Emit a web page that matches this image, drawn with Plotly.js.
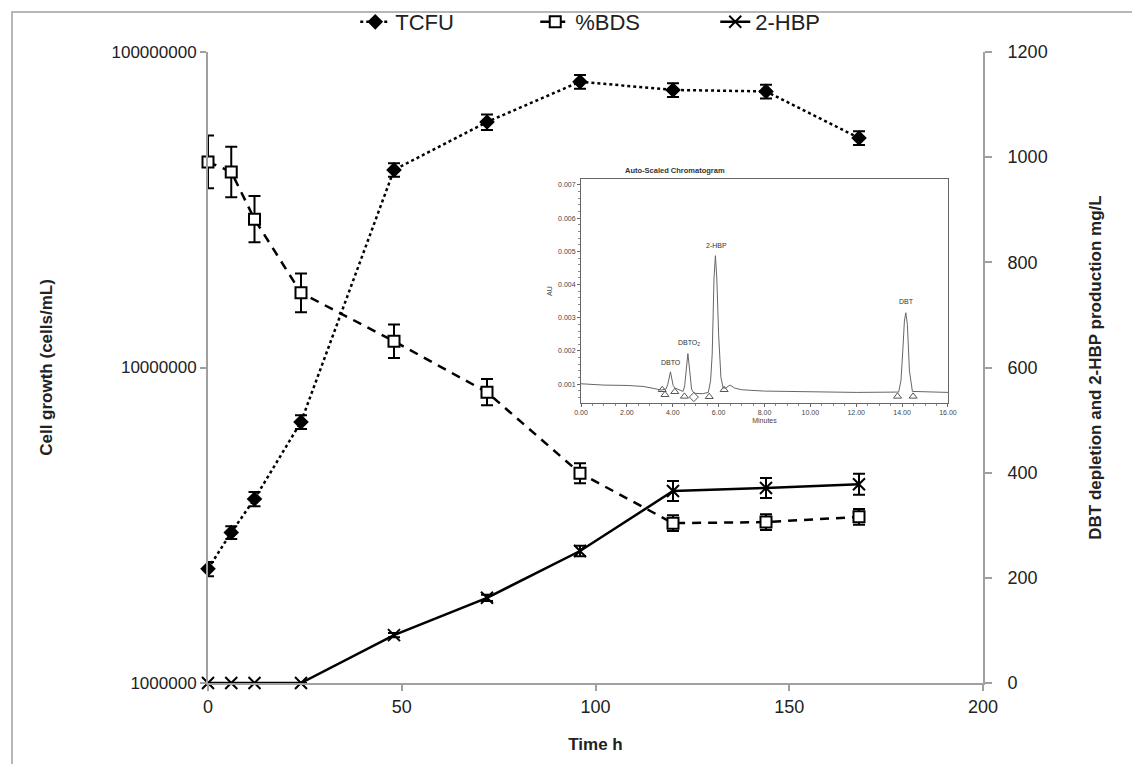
<!DOCTYPE html>
<html>
<head>
<meta charset="utf-8">
<script src="https://cdn.plot.ly/plotly-3.0.1.min.js"></script>
<style>
  html, body { margin: 0; padding: 0; background: #fff; }
  #chart { width: 1132px; height: 764px; }
</style>
</head>
<body>
<div id="chart"></div>
<script>
// ---- Main data ----
const timeH = [0, 6, 12, 24, 48, 72, 96, 120, 144, 168];
const tcfu = [2.30e6, 3.0e6, 3.83e6, 6.72e6, 4.23e7, 6.0e7, 8.05e7, 7.58e7, 7.5e7, 5.34e7];
const tcfuErr = [1.2e5, 1.4e5, 2.0e5, 3.4e5, 2.1e6, 3.4e6, 4.0e6, 3.8e6, 3.8e6, 2.7e6];
const bds = [991, 972, 882, 742, 650, 553, 399, 304, 306, 316];
const bdsErr = [50, 48, 44, 37, 32, 25, 19, 15, 15, 15];
const hbp = [0, 0, 0, 0, 91, 162, 251, 365, 371, 378];
const hbpErr = [0, 0, 0, 0, 4, 6, 10, 19, 19, 20];

const leftTickVals = [1e6, 1e7, 1e8];
const leftTickText = ['1000000', '10000000', '100000000'];

// ---- Inset chromatogram ----
const chromMin = [0, 1.0, 2.0, 2.7, 3.1, 3.5, 3.7, 3.78, 3.9, 4.02, 4.1, 4.2, 4.45, 4.52, 4.58, 4.66, 4.74, 4.82, 4.9, 5.0, 5.3, 5.55, 5.65, 5.72, 5.8, 5.86, 5.92, 6.0, 6.1, 6.2, 6.3, 6.5, 6.7, 7.0, 8.0, 9.0, 10.0, 12.0, 13.85, 13.95, 14.03, 14.1, 14.16, 14.23, 14.32, 14.45, 16.0];
const chromAU = [0.00101, 0.00097, 0.00096, 0.00093, 0.00088, 0.00082, 0.00085, 0.00098, 0.00137, 0.00095, 0.00088, 0.00085, 0.00078, 0.00095, 0.0014, 0.00192, 0.0014, 0.00085, 0.00075, 0.00072, 0.00071, 0.00075, 0.0011, 0.0019, 0.0042, 0.00487, 0.0042, 0.0025, 0.0012, 0.00088, 0.00088, 0.00097, 0.00088, 0.00083, 0.00079, 0.00078, 0.00076, 0.00075, 0.00076, 0.0011, 0.0020, 0.0029, 0.00315, 0.0028, 0.0014, 0.00078, 0.00075];
const triMin = [3.54, 3.66, 4.09, 4.51, 5.59, 6.24, 13.8, 14.48];
const triAU = [0.00083, 0.00068, 0.00077, 0.00063, 0.00062, 0.00083, 0.00063, 0.00063];
const diaMin = [4.92];
const diaAU = [0.00061];
const peakNames = ['DBTO', 'DBTO<sub>2</sub>', '2-HBP', 'DBT'];
const peakMin = [3.92, 4.72, 5.91, 14.18];
const peakAU = [0.00150, 0.00205, 0.00502, 0.00332];

const F = 'Liberation Sans, Arial, sans-serif';

const traces = [
  {
    x: timeH, y: tcfu, name: 'TCFU', type: 'scatter', mode: 'lines+markers',
    xaxis: 'x', yaxis: 'y', cliponaxis: false,
    line: {color: '#000', width: 2.5, dash: 'dot'},
    marker: {symbol: 'diamond', size: 12, color: '#000'},
    error_y: {type: 'data', array: tcfuErr, visible: true, color: '#000', thickness: 2, width: 6}
  },
  {
    x: timeH, y: bds, name: '%BDS', type: 'scatter', mode: 'lines+markers',
    xaxis: 'x', yaxis: 'y2', cliponaxis: false,
    line: {color: '#000', width: 2.5, dash: '9px,7px'},
    marker: {symbol: 'square', size: 11, color: '#fff', line: {color: '#000', width: 2}},
    error_y: {type: 'data', array: bdsErr, visible: true, color: '#000', thickness: 2, width: 6}
  },
  {
    x: timeH, y: hbp, name: '2-HBP', type: 'scatter', mode: 'lines+markers',
    xaxis: 'x', yaxis: 'y2', cliponaxis: false,
    line: {color: '#000', width: 2.5},
    marker: {symbol: 'x-thin-open', size: 12, color: '#000', line: {color: '#000', width: 2}},
    error_y: {type: 'data', array: hbpErr, visible: true, color: '#000', thickness: 2, width: 6}
  },
  {
    x: chromMin, y: chromAU, type: 'scatter', mode: 'lines', showlegend: false,
    xaxis: 'x2', yaxis: 'y3', line: {color: '#666', width: 1}, hoverinfo: 'skip'
  },
  {
    x: triMin, y: triAU, type: 'scatter', mode: 'markers', showlegend: false,
    xaxis: 'x2', yaxis: 'y3',
    marker: {symbol: 'triangle-up-open', size: 7, color: '#555', line: {width: 1}}
  },
  {
    x: diaMin, y: diaAU, type: 'scatter', mode: 'markers', showlegend: false,
    xaxis: 'x2', yaxis: 'y3',
    marker: {symbol: 'diamond-open', size: 7, color: '#555', line: {width: 1}}
  }
];

const annotations = peakNames.map((t, i) => ({
  x: peakMin[i], y: peakAU[i], xref: 'x2', yref: 'y3', text: t, showarrow: false,
  font: {family: F, size: 7, color: '#333'}, yanchor: 'bottom'
}));
annotations.push({
  x: 0.670, y: 0.8225, xref: 'paper', yref: 'paper', text: '<b>Auto-Scaled Chromatogram</b>',
  showarrow: false, font: {family: F, size: 7.5, color: '#333'}
});

const layout = {
  width: 1132, height: 764,
  margin: {l: 208, r: 149, t: 52, b: 81, autoexpand: false},
  paper_bgcolor: '#fff', plot_bgcolor: 'rgba(0,0,0,0)',
  font: {family: F, color: '#222'},
  showlegend: true,
  legend: {
    orientation: 'h', x: 0.19, xanchor: 'left', y: 1.0475, yanchor: 'middle',
    font: {family: F, size: 22, color: '#222'}, bgcolor: 'rgba(0,0,0,0)',
    entrywidth: 135, entrywidthmode: 'pixels'
  },
  xaxis: {
    domain: [0, 1], range: [0, 200], dtick: 50, tick0: 0,
    showgrid: false, zeroline: false, showline: true, linecolor: '#a0a0a0', linewidth: 2,
    ticks: 'outside', ticklen: 6, tickcolor: '#a0a0a0', tickwidth: 2,
    tickfont: {family: F, size: 18, color: '#222'},
    title: {text: '<b>Time h</b>', font: {family: F, size: 17, color: '#222'}, standoff: 23},
    anchor: 'y'
  },
  yaxis: {
    type: 'log', range: [6, 8], tickvals: leftTickVals, ticktext: leftTickText,
    showgrid: false, zeroline: false, showline: true, linecolor: '#a0a0a0', linewidth: 2,
    ticks: 'outside', ticklen: 6, tickcolor: '#a0a0a0', tickwidth: 2,
    tickfont: {family: F, size: 17, color: '#222'},
    title: {text: '<b>Cell growth (cells/mL)</b>', font: {family: F, size: 17, color: '#222'}, standoff: 55},
    anchor: 'x'
  },
  yaxis2: {
    overlaying: 'y', side: 'right', range: [0, 1200], dtick: 200,
    showgrid: false, zeroline: false, showline: true, linecolor: '#a0a0a0', linewidth: 2,
    ticks: 'outside', ticklen: 7, tickcolor: '#a0a0a0', tickwidth: 2, ticklabelstandoff: 12,
    tickfont: {family: F, size: 18, color: '#222'},
    title: {text: '<b>DBT depletion and 2-HBP production mg/L</b>', font: {family: F, size: 17, color: '#222'}, standoff: 42},
    anchor: 'x'
  },
  xaxis2: {
    domain: [0.4813, 0.9548], range: [0, 16], dtick: 2, tickformat: '.2f', anchor: 'y3',
    showgrid: false, zeroline: false, showline: true, mirror: true, linecolor: '#666', linewidth: 1,
    ticks: 'outside', ticklen: 3, tickcolor: '#666',
    minor: {dtick: 0.5, ticks: 'outside', ticklen: 2, tickcolor: '#888'},
    tickfont: {family: F, size: 7, color: '#444'},
    title: {text: 'Minutes', font: {family: F, size: 7, color: '#444'}, standoff: 2}
  },
  yaxis3: {
    domain: [0.4437, 0.7987], range: [0.00043, 0.00718], tickvals: [0.001, 0.002, 0.003, 0.004, 0.005, 0.006, 0.007],
    tickformat: '.3f', anchor: 'x2',
    showgrid: false, zeroline: false, showline: true, mirror: true, linecolor: '#666', linewidth: 1,
    ticks: 'outside', ticklen: 3, tickcolor: '#666',
    minor: {dtick: 0.0002, ticks: 'outside', ticklen: 2, tickcolor: '#888'},
    tickfont: {family: F, size: 7, color: '#444'},
    title: {text: 'AU', font: {family: F, size: 7, color: '#444'}, standoff: 4}
  },
  annotations: annotations,
  shapes: [
    {type: 'rect', xref: 'paper', yref: 'paper', x0: -0.2529, x1: 1.4, y0: -0.3, y1: 1.0634,
     line: {color: '#a0a0a0', width: 1.5}, fillcolor: 'rgba(0,0,0,0)', layer: 'below'}
  ]
};

Plotly.newPlot('chart', traces, layout, {staticPlot: true});
</script>
</body>
</html>
